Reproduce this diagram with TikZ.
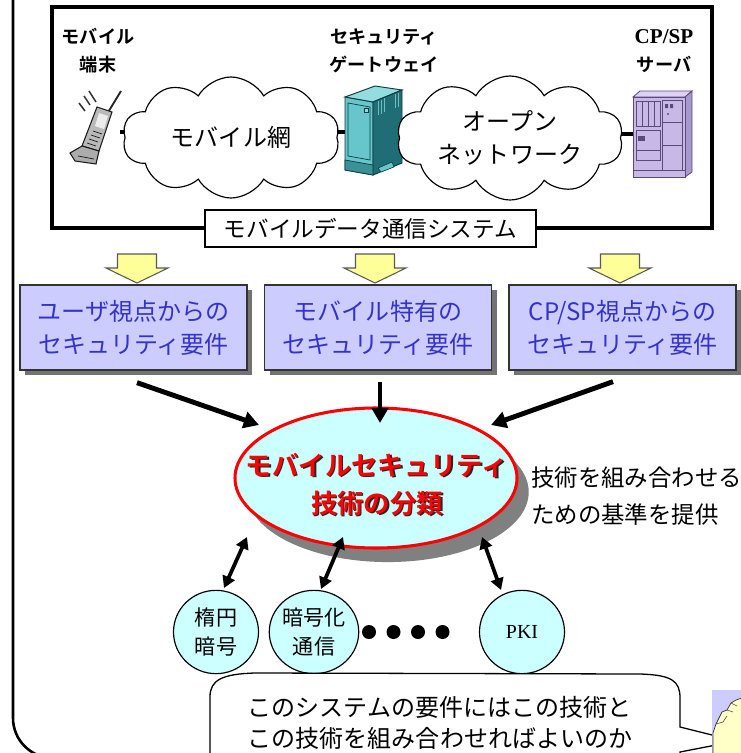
\documentclass[tikz,border=0pt]{standalone}
\usepackage{fontspec}
\setmainfont{Noto Sans CJK JP}[BoldFont={Noto Sans CJK JP Bold}]
\newfontfamily\serifrm{Liberation Serif}
\usetikzlibrary{shapes.symbols,shapes.geometric,arrows.meta,shadows}

\definecolor{reqfill}{HTML}{CCCCFF}
\definecolor{reqtext}{HTML}{3333CC}
\definecolor{cyanfill}{HTML}{CCFFFF}
\definecolor{arrowyellow}{HTML}{FFFF99}
\definecolor{gwfront}{HTML}{66C6CC}
\definecolor{gwtop}{HTML}{93DCE0}
\definecolor{gwside}{HTML}{1F6E75}
\definecolor{gwline}{HTML}{0C3C40}
\definecolor{svfront}{HTML}{C8B8E8}
\definecolor{svside}{HTML}{A898D0}
\definecolor{svtop}{HTML}{DDD2F4}
\definecolor{svline}{HTML}{5A4A7A}
\definecolor{skin}{HTML}{FFFFC8}

\tikzset{
  devlabel/.style={font=\bfseries\fontsize{15.5pt}{24pt}\selectfont, align=center, inner sep=0pt},
  netcloud/.style={cloud, draw, cloud ignores aspect, cloud puffs=10, cloud puff arc=120,
    line width=1pt, fill=white, inner sep=0pt, align=center,
    font=\fontsize{20.5pt}{28pt}\selectfont},
  stub/.style={line width=2.6pt},
  iconbox/.style={inner sep=0pt},
  reqbox/.style={draw=black!80, line width=1.1pt, fill=reqfill, text=reqtext,
    minimum width=6.81cm, minimum height=2.55cm, align=center, inner sep=0pt,
    font=\fontsize{20.5pt}{28pt}\selectfont,
    drop shadow={shadow xshift=4.5pt, shadow yshift=-4.5pt, fill=black!55, opacity=1}},
  bigarrow/.style={line width=4.2pt, -{Triangle[length=13pt,width=14pt]}},
  dblarrow/.style={line width=3.2pt, {Triangle[length=10pt,width=11pt]}-{Triangle[length=10pt,width=11pt]}},
  techcirc/.style={ellipse, draw, line width=1pt, fill=cyanfill, minimum width=2.55cm,
    minimum height=2.5cm, inner sep=0pt, align=center, font=\fontsize{18pt}{24pt}\selectfont},
  dotnode/.style={circle, fill=black, minimum size=0.42cm, inner sep=0pt},
  yarrow/.pic={\path[draw=black!65, fill=arrowyellow, line width=0.9pt]
    (-19.5,0) -- (19.5,0) -- (19.5,14) -- (31,14) -- (0,29) -- (-31,14) -- (-19.5,14) -- cycle;}
}

\begin{document}
\begin{tikzpicture}[x=0.03cm,y=-0.03cm]
\useasboundingbox (0,0) rectangle (741,753);

% outer frame, only its lower left part lies inside the page
\begin{scope}
  \clip (0,0) rectangle (741,753);
  \draw[line width=2.2pt, rounded corners=1.2cm] (13,-100) rectangle (900,758);
\end{scope}

% ---------- mobile data communication system ----------
\node[draw, line width=2.6pt, minimum width=19.8cm, minimum height=6.63cm, inner sep=0pt]
  (sys) at (382,117.5) {};

\node[devlabel] (termlbl) at (98,51) {モバイル\\端末};
\node[devlabel] (gwlbl) at (384,51) {セキュリティ\\ゲートウェイ};
\node[devlabel] (svlbl) at (664,51) {{\serifrm\bfseries\fontsize{18pt}{24pt}\selectfont CP/SP}\\サーバ};

% mobile terminal
\node[iconbox, minimum width=1.44cm, minimum height=2.52cm] (phone) at (96,132) {};
\draw[gray!30!black, line width=1.6pt] (121,91) -- (107,114);
\draw[gray!40!black, line width=1.3pt] (84,96) -- (90,105) (89,91) -- (96,102) (79,103) -- (85,111);
\path[draw=gray!20!black, fill=gray!55, line width=0.9pt]
  (97,107) -- (112,112) -- (99,151) -- (82,146) -- cycle;
\path[draw=gray!20!black, fill=gray!65, line width=0.9pt]
  (82,146) -- (99,151) -- (96,164) -- (75,161) -- (70,153) -- cycle;
\path[fill=gray!15] (99,113) -- (108,116) -- (104,129) -- (95,126) -- cycle;
\foreach \k in {0,1,2,3}
  \draw[gray!20!black, line width=0.6pt] (93-2*\k,131+4*\k) -- (102-2*\k,134+4*\k);
\draw[gray!20!black, line width=0.6pt] (78,156) -- (94,159);

% security gateway
\node[iconbox, minimum width=1.71cm, minimum height=2.94cm] (gw) at (373.5,132) {};
\path[draw=gwline, fill=gwfront, line width=0.8pt] (345,97) -- (373,102) -- (373,175) -- (345,170) -- cycle;
\path[draw=gwline, fill=gwtop, line width=0.8pt] (345,97) -- (373,102) -- (402,90) -- (375,86) -- cycle;
\path[draw=gwline, fill=gwside, line width=0.8pt] (373,102) -- (402,90) -- (402,163) -- (373,175) -- cycle;
\draw[gwline, line width=0.6pt] (348,103) -- (370,107) -- (370,160) -- (348,156) -- cycle;
\path[draw=gwline, fill=gwside!60!gwfront, line width=0.6pt] (345,160) -- (373,165) -- (373,175) -- (345,170) -- cycle;
\draw[gwline, fill=gwtop, line width=0.4pt] (364,108) rectangle (368,112);
\foreach \s in {378,381,384,395,398}
  \draw[gwtop!70!gwside, line width=0.7pt] (\s,{103-0.41*(\s-373)}) -- ++(0,14);
\path[fill=gwfront, draw=gwline, line width=0.5pt] (378,168) -- (392,162) -- (394,167) -- (381,172) -- cycle;

% CP/SP server
\node[iconbox, minimum width=1.77cm, minimum height=2.76cm] (srv) at (662.5,134) {};
\path[draw=svline, fill=svtop, line width=0.7pt] (633,97) -- (640,91) -- (692,91) -- (685,97) -- cycle;
\path[draw=svline, fill=svside, line width=0.7pt] (685,97) -- (692,91) -- (692,172) -- (685,177) -- cycle;
\path[draw=svline, fill=svfront, line width=0.7pt] (633,97) rectangle (685,177);
\draw[svline, line width=0.5pt] (636,101) rectangle (660,126);
\foreach \s in {642,648,654}
  \draw[svline, line width=0.5pt] (\s,101) -- (\s,126);
\draw[svline, line width=0.5pt] (662,100) rectangle (682,170);
\draw[svline, line width=0.5pt] (662,122) -- (682,122) (662,145) -- (682,145);
\fill[svline] (665,104) rectangle (668,108) (670,104) rectangle (673,108);
\fill[svline] (668,114) circle (1.2);
\draw[svline, line width=0.5pt] (636,130) rectangle (660,160);
\draw[svline, line width=0.5pt] (636,150) -- (660,150);
\fill[svline] (638,136) rectangle (645,141);
\draw[svline, line width=0.5pt] (633,170) -- (685,170);

% networks
\node[netcloud, minimum width=6.51cm, minimum height=3.63cm] (net1) at (231,137.5) {モバイル網};
\node[netcloud, minimum width=6.78cm, minimum height=3.72cm] (net2) at (510,138) {オープン\\ネットワーク};

\draw[stub] (phone.east) -- (phone.east -| net1.west);
\draw[stub] (net1.east |- gw.west) -- (gw.west);
\draw[stub] (srv.west -| net2.east) -- (srv.west);

\node[draw, line width=2.2pt, fill=white, minimum width=9.93cm, minimum height=1.11cm, inner sep=0pt,
  font=\fontsize{19.3pt}{24pt}\selectfont] (systitle) at (370.5,228.5) {モバイルデータ通信システム};

% ---------- requirement boxes ----------
\pic at (137,254) {yarrow};
\pic at (375,254) {yarrow};
\pic at (620,254) {yarrow};

\node[reqbox] (req1) at (133.5,327.5) {ユーザ視点からの\\セキュリティ要件};
\node[reqbox] (req2) at (378,327.5) {モバイル特有の\\セキュリティ要件};
\node[reqbox] (req3) at (622.5,327.5) {CP/SP視点からの\\セキュリティ要件};

% ---------- classification ----------
\node[ellipse, draw=red, line width=2.6pt, fill=cyanfill, minimum width=8.46cm, minimum height=4.2cm,
  inner sep=0pt, drop shadow={shadow xshift=10pt, shadow yshift=-12pt, fill=black!50, opacity=1}]
  (ell) at (376,478) {};
\node[text=black!85, font=\bfseries\fontsize{22.5pt}{32.4pt}\selectfont, align=center]
  (elltxtshade) at (378.5,486) {モバイルセキュリティ\\技術の分類};
\node[text=red, font=\bfseries\fontsize{22.5pt}{32.4pt}\selectfont, align=center]
  (elltxt) at (377,484.5) {モバイルセキュリティ\\技術の分類};

\node[anchor=west, align=left, inner sep=0pt, font=\fontsize{20pt}{31.6pt}\selectfont]
  (basis) at (531,496.5) {技術を組み合わせる\\ための基準を提供};

\draw[bigarrow] ([shift={(3.5,12)}]req1.south) -- ([shift={(-117,-53)}]ell.center);
\draw[bigarrow] ([shift={(2,11)}]req2.south) -- ([shift={(4,-55)}]ell.center);
\draw[bigarrow] ([shift={(-9.5,11)}]req3.south) -- ([shift={(115,-53)}]ell.center);

% ---------- technologies ----------
\node[techcirc] (ecc) at (216,632) {楕円\\暗号};
\node[techcirc] (enc) at (314,632) {暗号化\\通信};
\node[techcirc, font=\serifrm\fontsize{17pt}{20pt}\selectfont] (pki) at (522,632) {PKI};

\node[dotnode] (d1) at (369,632) {};
\node[dotnode] (d2) at (393.5,632) {};
\node[dotnode] (d3) at (418,632) {};
\node[dotnode] (d4) at (442.5,632) {};

\draw[dblarrow] ([shift={(-129,59)}]ell.center) -- ([shift={(8,-44)}]ecc.center);
\draw[dblarrow] ([shift={(-33,59)}]ell.center) -- ([shift={(7,-43)}]enc.center);
\draw[dblarrow] ([shift={(106,59)}]ell.center) -- ([shift={(-21,-42)}]pki.center);

% ---------- speech bubble and speaker ----------
\path[draw, line width=1.1pt, fill=white]
  (210,770) -- (210,697) .. controls (210,680) and (222,674) .. (255,673)
  -- (640,674) .. controls (672,675) and (680,681) .. (680,698)
  -- (680,727) -- (716,736) -- (716,745) -- (680,752) -- (680,770);
\node[align=left, inner sep=0pt, font=\fontsize{20.5pt}{26.5pt}\selectfont]
  (question) at (440,722.5) {このシステムの要件にはこの技術と\\この技術を組み合わせればよいのか};

\begin{scope}
  \clip (0,0) rectangle (741,753);
  \fill[reqfill] (712,690) rectangle (760,770);
  \path[draw=black!80, fill=skin, line width=0.6pt]
    (713,770) -- (713,733) -- (716,724) -- (722,712) -- (727,710) -- (731,703)
    -- (736,700) -- (745,697) -- (745,770) -- cycle;
  \draw[black!70, line width=0.5pt] (716,724) -- (723,722) -- (727,716)
    (727,710) -- (733,712) (731,703) -- (737,706);
\end{scope}
\end{tikzpicture}
\end{document}
